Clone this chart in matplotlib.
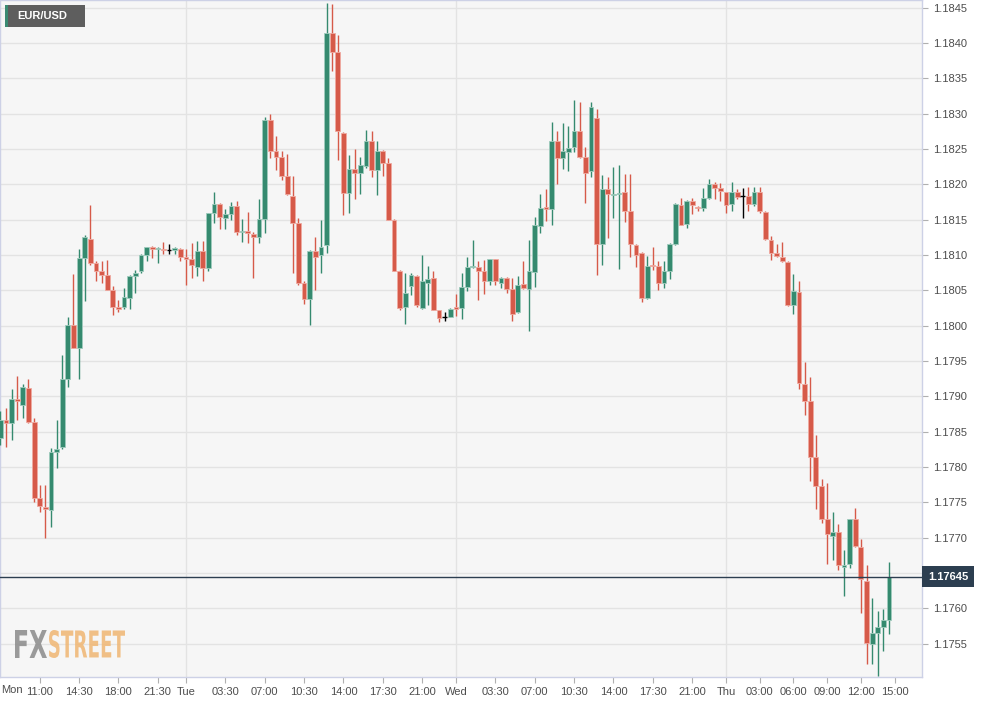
import numpy as np
import matplotlib.pyplot as plt
from matplotlib.textpath import TextPath
from matplotlib.patches import PathPatch, Rectangle
from matplotlib.font_manager import FontProperties
from matplotlib.transforms import Affine2D

plt.rcParams['font.family'] = ['Liberation Sans', 'DejaVu Sans']

# EUR/USD 30-minute candles, Mon 07:30 -> Thu 14:30
opens = [1.17841, 1.17867, 1.17862, 1.17896, 1.17888, 1.17912, 1.17864, 1.17756, 1.17744, 1.17739,
         1.17821, 1.17829, 1.17925, 1.18001, 1.17968, 1.18096, 1.18123, 1.18089, 1.18077, 1.18072,
         1.18051, 1.18026, 1.18026, 1.18040, 1.18070, 1.18077, 1.18100, 1.18112, 1.18108, 1.18109,
         1.18107, 1.18107, 1.18109, 1.18097, 1.18094, 1.18083, 1.18106, 1.18082, 1.18159, 1.18173,
         1.18153, 1.18158, 1.18169, 1.18132, 1.18134, 1.18130, 1.18126, 1.18151, 1.18291, 1.18247,
         1.18239, 1.18212, 1.18184, 1.18146, 1.18060, 1.18038, 1.18106, 1.18100, 1.18115, 1.18414,
         1.18387, 1.18273, 1.18188, 1.18222, 1.18216, 1.18226, 1.18262, 1.18220, 1.18248, 1.18230,
         1.18149, 1.18077, 1.18026, 1.18056, 1.18071, 1.18025, 1.18060, 1.18067, 1.18022, 1.18013,
         1.18013, 1.18026, 1.18025, 1.18055, 1.18083, 1.18083, 1.18077, 1.18064, 1.18094, 1.18061,
         1.18067, 1.18052, 1.18019, 1.18059, 1.18052, 1.18076, 1.18141, 1.18168, 1.18165, 1.18262,
         1.18237, 1.18246, 1.18253, 1.18276, 1.18239, 1.18219, 1.18294, 1.18116, 1.18194, 1.18185,
         1.18186, 1.18189, 1.18163, 1.18115, 1.18103, 1.18039, 1.18086, 1.18085, 1.18060, 1.18078,
         1.18116, 1.18171, 1.18144, 1.18176, 1.18168, 1.18167, 1.18181, 1.18200, 1.18195, 1.18189,
         1.18172, 1.18190, 1.18184, 1.18184, 1.18173, 1.18190, 1.18161, 1.18122, 1.18103, 1.18098,
         1.18090, 1.18029, 1.18048, 1.17917, 1.17894, 1.17815, 1.17773, 1.17726, 1.17702, 1.17708,
         1.17659, 1.17663, 1.17726, 1.17687, 1.17639, 1.17550, 1.17565, 1.17574, 1.17583]
highs = [1.17880, 1.17883, 1.17910, 1.17929, 1.17917, 1.17925, 1.17869, 1.17775, 1.17775, 1.17827,
         1.17867, 1.17959, 1.18013, 1.18073, 1.18109, 1.18128, 1.18171, 1.18092, 1.18092, 1.18093,
         1.18056, 1.18037, 1.18054, 1.18072, 1.18079, 1.18101, 1.18112, 1.18113, 1.18111, 1.18118,
         1.18116, 1.18112, 1.18110, 1.18108, 1.18117, 1.18120, 1.18120, 1.18160, 1.18190, 1.18174,
         1.18165, 1.18175, 1.18177, 1.18151, 1.18161, 1.18133, 1.18180, 1.18296, 1.18300, 1.18268,
         1.18247, 1.18243, 1.18212, 1.18152, 1.18063, 1.18107, 1.18125, 1.18150, 1.18457, 1.18456,
         1.18412, 1.18274, 1.18241, 1.18250, 1.18239, 1.18277, 1.18275, 1.18261, 1.18249, 1.18237,
         1.18151, 1.18079, 1.18074, 1.18074, 1.18072, 1.18100, 1.18084, 1.18077, 1.18023, 1.18019,
         1.18025, 1.18045, 1.18075, 1.18097, 1.18122, 1.18092, 1.18093, 1.18095, 1.18095, 1.18069,
         1.18069, 1.18068, 1.18071, 1.18092, 1.18121, 1.18154, 1.18186, 1.18193, 1.18288, 1.18276,
         1.18287, 1.18282, 1.18320, 1.18316, 1.18253, 1.18317, 1.18307, 1.18213, 1.18210, 1.18224,
         1.18227, 1.18215, 1.18215, 1.18116, 1.18105, 1.18099, 1.18111, 1.18092, 1.18092, 1.18117,
         1.18174, 1.18181, 1.18178, 1.18181, 1.18169, 1.18195, 1.18207, 1.18204, 1.18202, 1.18190,
         1.18204, 1.18193, 1.18195, 1.18197, 1.18197, 1.18197, 1.18162, 1.18127, 1.18116, 1.18118,
         1.18091, 1.18073, 1.18063, 1.17949, 1.17928, 1.17846, 1.17783, 1.17778, 1.17736, 1.17719,
         1.17683, 1.17727, 1.17742, 1.17698, 1.17662, 1.17615, 1.17597, 1.17599, 1.17666]
lows = [1.17831, 1.17829, 1.17838, 1.17867, 1.17869, 1.17862, 1.17751, 1.17736, 1.17700, 1.17715,
        1.17799, 1.17826, 1.17913, 1.17968, 1.17925, 1.18035, 1.18086, 1.18063, 1.18060, 1.18051,
        1.18015, 1.18019, 1.18024, 1.18024, 1.18046, 1.18075, 1.18091, 1.18096, 1.18089, 1.18102,
        1.18102, 1.18101, 1.18092, 1.18057, 1.18067, 1.18070, 1.18063, 1.18078, 1.18146, 1.18137,
        1.18137, 1.18150, 1.18129, 1.18118, 1.18117, 1.18067, 1.18117, 1.18131, 1.18238, 1.18221,
        1.18206, 1.18185, 1.18074, 1.18058, 1.18031, 1.18001, 1.18050, 1.18074, 1.18103, 1.18361,
        1.18234, 1.18157, 1.18160, 1.18179, 1.18187, 1.18223, 1.18210, 1.18185, 1.18212, 1.18149,
        1.18077, 1.18022, 1.18003, 1.18043, 1.18027, 1.18024, 1.18030, 1.18022, 1.18006, 1.18007,
        1.18013, 1.18014, 1.18009, 1.18049, 1.18082, 1.18036, 1.18045, 1.18057, 1.18057, 1.18053,
        1.18046, 1.18007, 1.18018, 1.18052, 1.17992, 1.18055, 1.18131, 1.18148, 1.18143, 1.18201,
        1.18222, 1.18219, 1.18246, 1.18238, 1.18174, 1.18210, 1.18072, 1.18086, 1.18124, 1.18152,
        1.18080, 1.18147, 1.18097, 1.18083, 1.18033, 1.18038, 1.18079, 1.18051, 1.18054, 1.18066,
        1.18115, 1.18142, 1.18138, 1.18158, 1.18162, 1.18162, 1.18179, 1.18179, 1.18177, 1.18160,
        1.18162, 1.18179, 1.18152, 1.18162, 1.18170, 1.18160, 1.18121, 1.18093, 1.18097, 1.18090,
        1.18028, 1.18017, 1.17910, 1.17874, 1.17780, 1.17741, 1.17721, 1.17663, 1.17668, 1.17655,
        1.17618, 1.17657, 1.17687, 1.17593, 1.17521, 1.17521, 1.17505, 1.17540, 1.17564]
closes = [1.17867, 1.17862, 1.17897, 1.17893, 1.17913, 1.17864, 1.17757, 1.17745, 1.17741, 1.17821,
          1.17826, 1.17925, 1.18001, 1.17968, 1.18096, 1.18125, 1.18089, 1.18077, 1.18072, 1.18051,
          1.18026, 1.18024, 1.18041, 1.18070, 1.18075, 1.18100, 1.18111, 1.18109, 1.18110, 1.18107,
          1.18107, 1.18110, 1.18097, 1.18095, 1.18086, 1.18106, 1.18082, 1.18159, 1.18173, 1.18154,
          1.18158, 1.18169, 1.18133, 1.18133, 1.18131, 1.18126, 1.18151, 1.18291, 1.18247, 1.18239,
          1.18212, 1.18186, 1.18145, 1.18061, 1.18038, 1.18106, 1.18097, 1.18111, 1.18414, 1.18387,
          1.18275, 1.18188, 1.18222, 1.18216, 1.18227, 1.18262, 1.18220, 1.18248, 1.18230, 1.18150,
          1.18078, 1.18025, 1.18046, 1.18072, 1.18030, 1.18063, 1.18066, 1.18023, 1.18011, 1.18013,
          1.18024, 1.18024, 1.18055, 1.18083, 1.18085, 1.18077, 1.18064, 1.18094, 1.18063, 1.18068,
          1.18052, 1.18016, 1.18058, 1.18053, 1.18077, 1.18143, 1.18167, 1.18165, 1.18262, 1.18237,
          1.18247, 1.18252, 1.18276, 1.18239, 1.18216, 1.18310, 1.18116, 1.18194, 1.18186, 1.18187,
          1.18188, 1.18163, 1.18116, 1.18100, 1.18039, 1.18085, 1.18084, 1.18060, 1.18077, 1.18116,
          1.18173, 1.18143, 1.18177, 1.18171, 1.18166, 1.18181, 1.18200, 1.18195, 1.18191, 1.18171,
          1.18190, 1.18182, 1.18184, 1.18172, 1.18190, 1.18162, 1.18123, 1.18103, 1.18099, 1.18091,
          1.18029, 1.18049, 1.17919, 1.17894, 1.17815, 1.17773, 1.17726, 1.17705, 1.17708, 1.17661,
          1.17661, 1.17726, 1.17688, 1.17641, 1.17551, 1.17565, 1.17574, 1.17583, 1.17645]

last_price = 1.17645
start_hour = 7.5   # hours after Mon 00:00
step = 0.5

tick_hours = [11, 14.5, 18, 21.5, 24, 27.5, 31, 34.5, 38, 41.5, 45, 48,
              51.5, 55, 58.5, 62, 65.5, 69, 72, 75, 78, 81, 84, 87]
tick_labels = ['11:00', '14:30', '18:00', '21:30', 'Tue', '03:30', '07:00', '10:30',
               '14:00', '17:30', '21:00', 'Wed', '03:30', '07:00', '10:30', '14:00',
               '17:30', '21:00', 'Thu', '03:00', '06:00', '09:00', '12:00', '15:00']
day_hours = [24, 48, 72]
price_ticks = np.arange(1.1755, 1.18451, 0.0005)

green, red = '#358a6f', '#d65a49'
green_edge, red_edge = '#9fcbbd', '#efaaa1'

fig = plt.figure(figsize=(9.92, 7.03), dpi=100)
fig.patch.set_facecolor('white')
ax = fig.add_axes([0, 26 / 703, 922 / 992, 677 / 703])
ax.set_facecolor('#f6f6f6')

o = np.array(opens)
h = np.array(highs)
l = np.array(lows)
c = np.array(closes)
x = start_hour + step * np.arange(len(o))

up = c > o
down = c < o
flat = c == o

# meches
for mask, col in [(up, green), (down, red), (flat, 'black')]:
    ax.vlines(x[mask], l[mask], h[mask], colors=col, linewidth=1.0, zorder=3)

# corps
bw = 0.43
bottom = np.minimum(o, c)
height = np.maximum(np.abs(c - o), 0.000015)
ax.bar(x[up], height[up], bottom=bottom[up], width=bw, color=green,
       edgecolor=green_edge, linewidth=0.6, zorder=4)
ax.bar(x[down], height[down], bottom=bottom[down], width=bw, color=red,
       edgecolor=red_edge, linewidth=0.6, zorder=4)
ax.hlines(o[flat], x[flat] - bw / 2, x[flat] + bw / 2, colors='black', linewidth=1, zorder=4)

ax.set_xlim(7.47, 89.43)
ax.set_ylim(1.17503, 1.18461)

# grille
ax.set_yticks(price_ticks)
ax.set_yticklabels(['' if abs(p - 1.1765) < 1e-6 else '%.4f' % p for p in price_ticks])
ax.yaxis.tick_right()
ax.grid(axis='y', color='#e3e3e3', linewidth=1, zorder=0)
for d in day_hours:
    ax.axvline(d, color='#e3e3e3', linewidth=1, zorder=0)

ax.set_xticks(tick_hours)
ax.set_xticklabels(tick_labels)
ax.tick_params(axis='x', length=4, color='#b0b0b0', labelsize=8, labelcolor='#4d4d4d', pad=3)
ax.tick_params(axis='y', length=4, color='#b0b0b0', labelsize=8, labelcolor='#4d4d4d', pad=4)
ax.set_axisbelow(True)

for s in ax.spines.values():
    s.set_color('#cdd1e6')
    s.set_linewidth(1)

# dernier prix
ax.axhline(last_price, color='#2c3e50', linewidth=1, zorder=5)
ax.text(1.0065, last_price, '%.5f' % last_price, transform=ax.get_yaxis_transform(),
        ha='left', va='center', color='white', fontsize=8, fontweight='bold', zorder=6,
        clip_on=False,
        bbox=dict(boxstyle='square,pad=0.5', fc='#2c3e50', ec='none'))

fig.text(1 / 992, (703 - 690) / 703, 'Mon', ha='left', va='center', fontsize=8, color='#4d4d4d')

# legende
fig.add_artist(Rectangle((5, 703 - 27), 80, 22, transform=None, fc='#5e5e5e', ec='none'))
fig.add_artist(Rectangle((5, 703 - 27), 2.5, 22, transform=None, fc='#3a8a72', ec='none'))
fig.text(17 / 992, (703 - 16) / 703, 'EUR/USD', ha='left', va='center', fontsize=8,
         fontweight='bold', color='white')

# filigrane
def add_word(text, x0, x1, y0, y1, color):
    tp = TextPath((0, 0), text, size=100,
                  prop=FontProperties(family=['Liberation Sans Narrow', 'DejaVu Sans'],
                                      weight='bold'))
    bb = tp.get_extents()
    tr = (Affine2D().translate(-bb.x0, -bb.y0)
          .scale((x1 - x0) / bb.width, (y1 - y0) / bb.height)
          .translate(x0, y0))
    fig.add_artist(PathPatch(tp, transform=tr, fc=color, ec='none', alpha=0.85))

add_word('FX', 15, 47, 703 - 658, 703 - 630, '#8a8a8a')
add_word('STREET', 49, 125, 703 - 658, 703 - 630, '#f0b672')

fig.savefig('out.png', dpi=100)
